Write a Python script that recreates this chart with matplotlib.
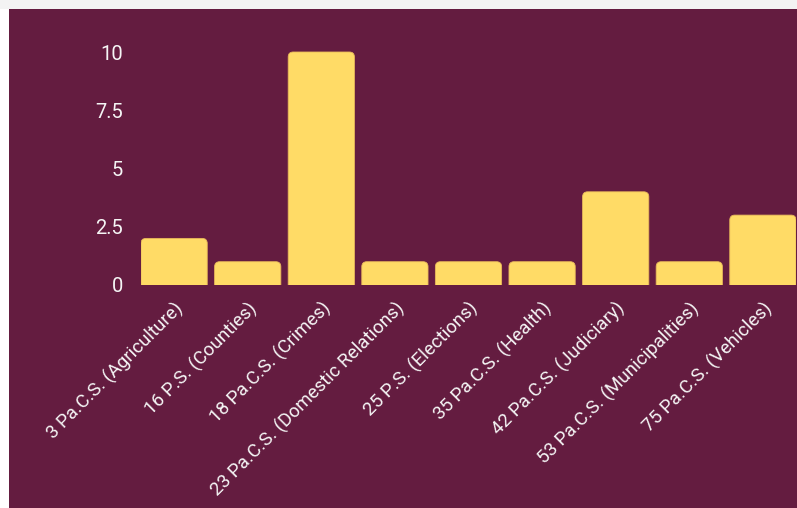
import matplotlib.pyplot as plt
from matplotlib.patches import Rectangle, FancyBboxPatch
import numpy as np

categories = ['3 Pa.C.S. (Agriculture)', '16 P.S. (Counties)', '18 Pa.C.S. (Crimes)',
              '23 Pa.C.S. (Domestic Relations)', '25 P.S. (Elections)', '35 Pa.C.S. (Health)',
              '42 Pa.C.S. (Judiciary)', '53 Pa.C.S. (Municipalities)', '75 Pa.C.S. (Vehicles)']
values = [2, 1, 10, 1, 1, 1, 4, 1, 3]
yticks = [0, 2.5, 5, 7.5, 10]
ytick_labels = ['0', '2.5', '5', '7.5', '10']

maroon = '#641c40'
yellow = '#ffdb66'
W, H = 797, 508

plt.rcParams['font.family'] = ['Roboto', 'DejaVu Sans']
fig = plt.figure(figsize=(W / 100, H / 100), dpi=100)
fig.patch.set_facecolor('white')
# grey strip on top and maroon panel (behind the axes)
fig.patches.append(Rectangle((0, 1 - 9 / H), 1, 9 / H, transform=fig.transFigure,
                             facecolor='#f3f3f3', edgecolor='none', zorder=-5))
fig.patches.append(Rectangle((9 / W, 0), 1 - 9 / W, 1 - 9 / H, transform=fig.transFigure,
                             facecolor=maroon, edgecolor='none', zorder=-5))

# axes: left 141px, right 796px, bottom (y=285), top (y=52 for value 10)
x0, x1 = 141, 796
ybot, ytop10 = 285, 52
ytop = ybot - (ybot - ytop10) * 10.5 / 10
ax = fig.add_axes([x0 / W, 1 - ybot / H, (x1 - x0) / W, (ybot - ytop) / H])
ax.set_facecolor('none')

x = np.arange(len(categories))
bw = 0.9
bars = ax.bar(x, values, width=bw, color='none')
ax.set_xlim(-bw / 2, len(categories) - 1 + bw / 2)
ax.set_ylim(0, 10.5)

# rounded tops
px_x = (x1 - x0) / (len(categories) - 1 + bw)
px_y = (ybot - ytop10) / 10
r = 5 / px_x
for b in bars:
    p = FancyBboxPatch((b.get_x(), -1), b.get_width(), b.get_height() + 1,
                       boxstyle='round,pad=0,rounding_size=%f' % r,
                       mutation_aspect=px_x / px_y,
                       facecolor=yellow, edgecolor='#e8b85a', linewidth=0.6)
    ax.add_patch(p)

ax.set_yticks(yticks)
ax.set_yticklabels(ytick_labels)
ax.set_xticks(x)
ax.set_xticklabels(categories, rotation=45, ha='right', rotation_mode='anchor')
ax.tick_params(axis='both', length=0, colors='#f5f5f5')
ax.tick_params(axis='y', pad=13, labelsize=14.5)
ax.tick_params(axis='x', pad=10, labelsize=13.5)
for s in ax.spines.values():
    s.set_visible(False)

fig.savefig('out.png', dpi=100, facecolor=fig.get_facecolor())
